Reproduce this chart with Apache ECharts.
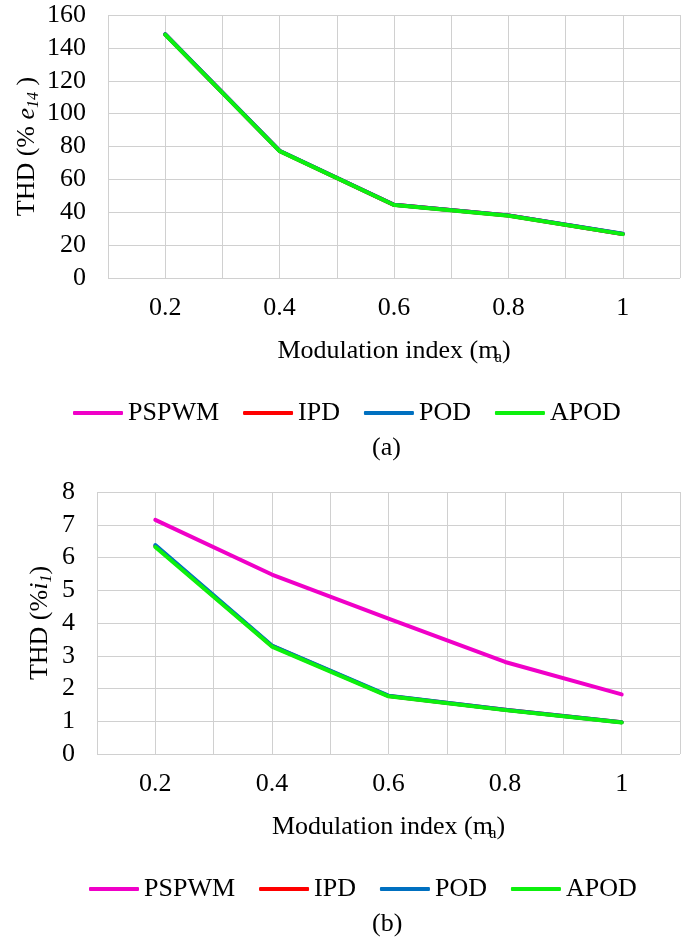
<!DOCTYPE html>
<html>
<head>
<meta charset="utf-8">
<script src="https://cdn.jsdelivr.net/npm/echarts@6/dist/echarts.min.js"></script>
<style>
  html, body { margin: 0; padding: 0; background: #ffffff; }
  #chartA, #chartB { width: 683px; height: 472px; }
</style>
</head>
<body>
<div id="chartA"></div>
<div id="chartB"></div>
<script>
// Modulation index values (x axis)
const modIndex = [0.2, 0.4, 0.6, 0.8, 1];
const seriesNames = ['PSPWM', 'IPD', 'POD', 'APOD'];

// (a) THD of e14 (%)
const e14PSPWM = [148.2, 77.3, 44.5, 38.0, 26.8];
const e14IPD   = [148.2, 77.3, 44.5, 38.0, 26.8];
const e14POD   = [148.3, 77.4, 44.6, 38.1, 26.9];
const e14APOD  = [148.1, 77.2, 44.4, 37.9, 26.7];

// (b) THD of i1 (%)
const i1PSPWM = [7.15, 5.48, 4.13, 2.81, 1.82];
const i1IPD   = [6.35, 3.30, 1.77, 1.35, 0.97];
const i1POD   = [6.38, 3.31, 1.78, 1.35, 0.97];
const i1APOD  = [6.32, 3.28, 1.76, 1.34, 0.96];

const colors = ['#F000C8', '#FF0000', '#0070C0', '#0DF00D'];
const FONT = "'Liberation Serif', 'Times New Roman', serif";

function buildSeries(valueArrays) {
  return valueArrays.map((vals, k) => ({
    name: seriesNames[k],
    type: 'line',
    data: modIndex.map((x, i) => [x, vals[i]]),
    symbol: 'none',
    z: 2 + k,
    lineStyle: { color: colors[k], width: 4, cap: 'round', join: 'round' },
    itemStyle: { color: colors[k] },
    emphasis: { disabled: true },
    animation: false
  }));
}

function buildOption(cfg) {
  return {
    animation: false,
    textStyle: { fontFamily: FONT },
    grid: cfg.grid,
    legend: {
      data: seriesNames,
      left: cfg.legendLeft,
      top: cfg.legendTop,
      padding: 0,
      icon: 'roundRect',
      itemWidth: 50,
      itemHeight: 4,
      itemGap: 24,
      textStyle: { fontFamily: FONT, fontSize: 26, color: '#000' }
    },
    xAxis: {
      type: 'value',
      min: 0.1,
      max: 1.1,
      interval: 0.1,
      axisLine: { show: false },
      axisTick: { show: false },
      splitLine: { show: true, lineStyle: { color: '#d0d0d0', width: 1 } },
      axisLabel: {
        margin: 17,
        fontFamily: FONT,
        fontSize: 26,
        color: '#000',
        showMinLabel: true,
        showMaxLabel: true,
        formatter: v => {
          const t = Math.round(v * 10);
          return (t % 2 === 0) ? String(t / 10) : '';
        }
      },
      name: '{n|Modulation index (m}{s|a}{n|)}',
      nameLocation: 'middle',
      nameGap: 58,
      nameMoveOverlap: false,
      nameTextStyle: {
        rich: {
          n: { fontFamily: FONT, fontSize: 26, color: '#000', lineHeight: 30 },
          s: { fontFamily: FONT, fontSize: 17, color: '#000', lineHeight: 17, verticalAlign: 'bottom', padding: [0, 0, 0, -4] }
        }
      }
    },
    yAxis: {
      type: 'value',
      min: 0,
      max: cfg.yMax,
      interval: cfg.yInterval,
      axisLine: { show: false },
      axisTick: { show: false },
      splitLine: { show: true, lineStyle: { color: '#d0d0d0', width: 1 } },
      axisLabel: { margin: 22, fontFamily: FONT, fontSize: 26, color: '#000' },
      name: cfg.yName,
      nameLocation: 'middle',
      nameRotate: 90,
      nameGap: cfg.yNameGap,
      nameMoveOverlap: false,
      nameTextStyle: {
        rich: {
          n: { fontFamily: FONT, fontSize: 26, color: '#000', lineHeight: 30 },
          i: { fontFamily: FONT, fontSize: 26, fontStyle: 'italic', color: '#000', lineHeight: 30 },
          s: { fontFamily: FONT, fontSize: 16, fontStyle: 'italic', color: '#000', lineHeight: 16, verticalAlign: 'bottom' }
        }
      }
    },
    graphic: [{
      type: 'text',
      left: cfg.captionX,
      top: cfg.captionY,
      style: { text: cfg.caption, fontFamily: FONT, fontSize: 26, fill: '#000' }
    }],
    series: buildSeries(cfg.values)
  };
}

const chartA = echarts.init(document.getElementById('chartA'), null, { renderer: 'canvas' });
chartA.setOption(buildOption({
  grid: { left: 108, right: 2, top: 15, bottom: 194 },
  legendLeft: 73,
  legendTop: 400,
  yMax: 160,
  yInterval: 20,
  yName: '{n|THD (% }{i|e}{s|14}{n| )}',
  yNameGap: 66,
  caption: '(a)',
  captionX: 372,
  captionY: 435,
  values: [e14PSPWM, e14IPD, e14POD, e14APOD]
}));

const chartB = echarts.init(document.getElementById('chartB'), null, { renderer: 'canvas' });
chartB.setOption(buildOption({
  grid: { left: 97, right: -13, top: 20, bottom: 190 },
  legendLeft: 89,
  legendTop: 404,
  yMax: 8,
  yInterval: 1,
  yName: '{n|THD (%}{i|i}{s|1}{n|)}',
  yNameGap: 42,
  caption: '(b)',
  captionX: 372,
  captionY: 439,
  values: [i1PSPWM, i1IPD, i1POD, i1APOD]
}));
</script>
</body>
</html>
